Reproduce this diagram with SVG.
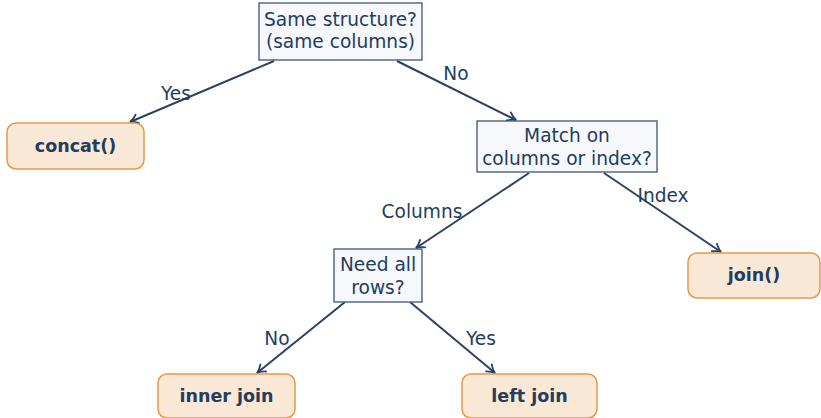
<svg xmlns="http://www.w3.org/2000/svg" width="821" height="418" viewBox="0 0 821 418">
<defs>
<style>
.dec{fill:#f6f8fb;stroke:#3b5578;stroke-width:1.3}
.term{fill:#f9e8d6;stroke:#e39a48;stroke-width:1.5}
.t{font-family:"DejaVu Sans",sans-serif;font-size:18.6px;fill:#243c5e;text-anchor:middle}
.b{font-family:"DejaVu Sans",sans-serif;font-size:17.5px;font-weight:bold;fill:#243c5e;text-anchor:middle}
.e{fill:none;stroke:#2a4265;stroke-width:2}
</style>
<marker id="ah" viewBox="0 0 12 12" refX="10" refY="6" markerWidth="12" markerHeight="12" markerUnits="userSpaceOnUse" orient="auto">
<path d="M2,1.5 Q6,5 10,6 Q6,7 2,10.5" fill="none" stroke="#2a4265" stroke-width="1.8" stroke-linecap="round"/>
</marker>
</defs>
<g id="connectors">
<line class="e" x1="274" y1="61" x2="130" y2="122" marker-end="url(#ah)"/>
<line class="e" x1="397" y1="61" x2="516" y2="120" marker-end="url(#ah)"/>
<line class="e" x1="529" y1="173" x2="416" y2="248" marker-end="url(#ah)"/>
<line class="e" x1="604" y1="173" x2="721" y2="252" marker-end="url(#ah)"/>
<line class="e" x1="345" y1="302" x2="257" y2="373" marker-end="url(#ah)"/>
<line class="e" x1="410" y1="302" x2="495" y2="373" marker-end="url(#ah)"/>
<text class="t" x="176" y="100">Yes</text>
<text class="t" x="456" y="80">No</text>
<text class="t" x="422" y="218">Columns</text>
<text class="t" x="663" y="202">Index</text>
<text class="t" x="277" y="345">No</text>
<text class="t" x="481" y="345">Yes</text>
</g>
<g id="n1">
<rect class="dec" x="259" y="3" width="163" height="57"/>
<text class="t" x="340.5" y="26">Same structure?</text>
<text class="t" x="340.5" y="48">(same columns)</text>
</g>
<g id="n2">
<rect class="dec" x="477" y="121" width="180" height="51"/>
<text class="t" x="567" y="142">Match on</text>
<text class="t" x="567" y="165">columns or index?</text>
</g>
<g id="n3">
<rect class="dec" x="334" y="249" width="88" height="53"/>
<text class="t" x="378" y="271">Need all</text>
<text class="t" x="378" y="294">rows?</text>
</g>
<g id="concat">
<rect class="term" x="7" y="123" width="137" height="46" rx="9"/>
<text class="b" x="75.5" y="152">concat()</text>
</g>
<g id="join">
<rect class="term" x="688" y="253" width="132" height="45" rx="9"/>
<text class="b" x="754" y="281">join()</text>
</g>
<g id="inner">
<rect class="term" x="158" y="374" width="137" height="44" rx="9"/>
<text class="b" x="226.5" y="402">inner join</text>
</g>
<g id="left">
<rect class="term" x="462" y="374" width="135" height="44" rx="9"/>
<text class="b" x="529.5" y="402">left join</text>
</g>
</svg>
